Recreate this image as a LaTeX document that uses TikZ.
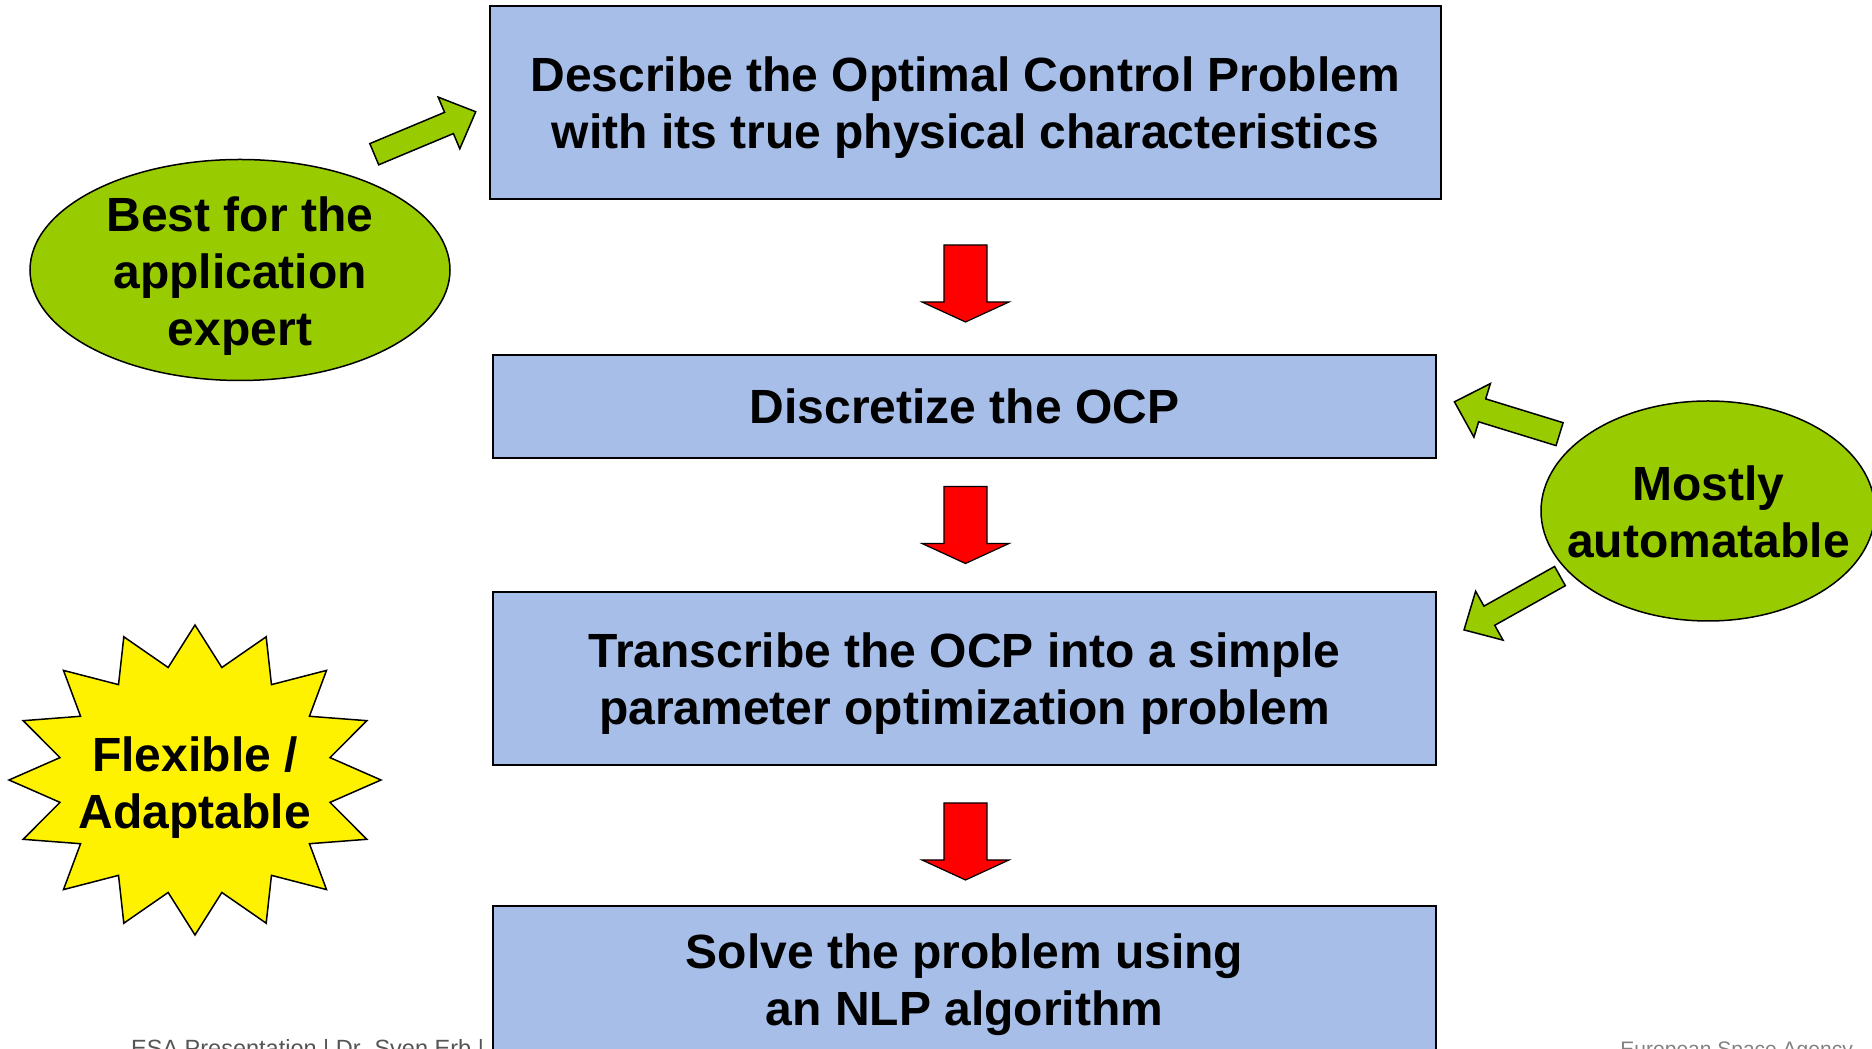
\documentclass[tikz,border=0pt]{standalone}
\usepackage{fontspec}
\setmainfont{Liberation Sans}
\usetikzlibrary{shapes.geometric}
\definecolor{boxblue}{RGB}{166,190,232}
\definecolor{leaf}{RGB}{153,204,0}
\definecolor{footgray}{RGB}{85,85,85}
\definecolor{footgraytwo}{RGB}{130,130,130}
\newcommand{\myblockarrow}[8]{%
  \begin{scope}[shift={(#2,#3)}, rotate=#4]
    \path[#1] ({-(#5)/2},{-(#6)}) -- ({(#5)/2-(#8)},{-(#6)}) -- ({(#5)/2-(#8)},{-(#7)}) -- ({(#5)/2},0) -- ({(#5)/2-(#8)},{#7}) -- ({(#5)/2-(#8)},{#6}) -- ({-(#5)/2},{#6}) -- cycle;
  \end{scope}}
\begin{document}
\begin{tikzpicture}[x=1pt,y=1pt,
  stepbox/.style={draw=black, line width=2pt, fill=boxblue, rectangle, inner sep=0pt, align=center, text depth=0pt, font=\bfseries\fontsize{48}{57}\selectfont},
  bigtext/.style={align=center, text depth=0pt, font=\bfseries\fontsize{48}{57}\selectfont, inner sep=0pt},
  blob/.style={ellipse, draw=black, line width=1.5pt, fill=leaf, inner sep=0pt},
  greenarrow/.style={draw=black, line width=1.5pt, fill=leaf, line join=miter},
  redarrow/.style={draw=black, line width=1.2pt, fill=red, line join=miter},
  burst/.style={draw=black, line width=1.5pt, fill=yellow, line join=miter},
]
\useasboundingbox (0,0) rectangle (1872,1049);
\clip (0,0) rectangle (1872,1049);

% main boxes
\node[stepbox, minimum width=951.5pt, minimum height=193pt] (box1) at (965.25,946.5)
  {Describe the Optimal Control Problem\\with its true physical characteristics};
\node[stepbox, minimum width=943pt, minimum height=103pt] (box2) at (964.5,642.5)
  {Discretize the OCP};
\node[stepbox, minimum width=943pt, minimum height=173pt] (box3) at (964.5,370.5)
  {Transcribe the OCP into a simple\\parameter optimization problem};
\node[stepbox, minimum width=943pt, minimum height=220pt, anchor=north] (box4) at (964.5,144) {};
\node[bigtext] (solve) at (964.5,69) {Solve the problem using\\an NLP algorithm};

% red arrows
\myblockarrow{redarrow}{965.5}{765.5}{-90}{77}{21.5}{43.5}{20}
\myblockarrow{redarrow}{965.5}{524}{-90}{77}{21.5}{43.5}{20}
\myblockarrow{redarrow}{965.5}{207.5}{-90}{77}{21.5}{43.5}{20}

% left ellipse
\node[blob, minimum width=420pt, minimum height=221pt] (expert) at (240,779) {};
\node[bigtext] (experttext) at (240,778) {Best for the\\application\\expert};
\myblockarrow{greenarrow}{425}{916}{22.7}{110}{11.5}{28}{29}

% right ellipse
\node[blob, minimum width=334pt, minimum height=220pt] (auto) at (1708,538) {};
\node[bigtext] (autotext) at (1708.5,537) {Mostly\\automatable};
\myblockarrow{greenarrow}{1507}{631}{162.9}{110}{12}{28}{29}
\myblockarrow{greenarrow}{1512}{446}{209.3}{110}{11}{28}{29}

% starburst
\draw[burst] plot[variable=\i, samples at={0,...,31}]
  ({195+186*((mod(\i,2)==0) ? 1 : 0.74)*cos(\i*11.25)}, {269+155*((mod(\i,2)==0) ? 1 : 0.74)*sin(\i*11.25)}) -- cycle;
\node[bigtext] (flex) at (195,266.5) {Flexible /\\Adaptable};

% footer
\node[anchor=base west, inner sep=0pt, text=footgray, font=\fontsize{23.5}{28}\selectfont] (foot1) at (131,-8) {ESA Presentation | Dr. Sven Erb |};
\node[anchor=base east, inner sep=0pt, text=footgraytwo, font=\fontsize{21}{25}\selectfont] (foot2) at (1853,-8) {European Space Agency};
\end{tikzpicture}
\end{document}
